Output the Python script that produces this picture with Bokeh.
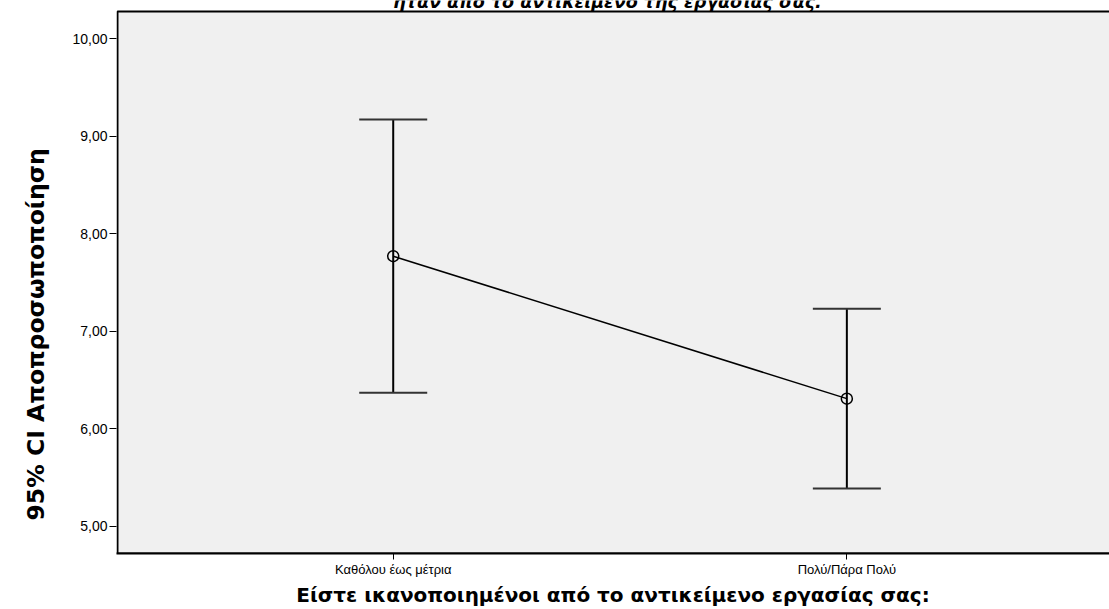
from bokeh.plotting import figure
from bokeh.models import (ColumnDataSource, Whisker, TeeHead, FixedTicker, Range1d, Label,
                          Title, BoxAnnotation)
from bokeh.embed import file_html
from bokeh.resources import INLINE

categories = ["Καθόλου έως μέτρια", "Πολύ/Πάρα Πολύ"]
means = [7.77, 6.31]
upper = [9.17, 7.23]
lower = [6.37, 5.39]
y_ticks = [5, 6, 7, 8, 9, 10]
y_tick_labels = ["5,00", "6,00", "7,00", "8,00", "9,00", "10,00"]
title_text = "ήταν από το αντικείμενο της εργασίας σας."
x_label = "Είστε ικανοποιημένοι από το αντικείμενο εργασίας σας:"
y_label = "95% CI Αποπροσωποποίηση"

xs = list(range(len(categories)))
src = ColumnDataSource(dict(x=xs, mean=means, upper=upper, lower=lower))

X0, X1 = -0.610, 1.579
Y0, YPANEL, Y1 = 4.723, 10.277, 10.39

p = figure(width=1109, height=609, output_backend="svg", toolbar_location=None,
           x_range=Range1d(X0, X1), y_range=Range1d(Y0, Y1),
           min_border_left=115, min_border_right=0, min_border_top=0, min_border_bottom=56)
p.background_fill_color = "white"
p.border_fill_color = "white"
p.outline_line_color = None
p.grid.visible = False

# grey chart panel with its top and left border lines
p.add_layout(BoxAnnotation(left=X0 + 1 / 454, right=X1 + 0.2, top=YPANEL,
                           fill_color="#f0f0f0", fill_alpha=1.0,
                           line_color="black", line_alpha=1.0, line_width=2, level="underlay"))

p.xaxis.ticker = FixedTicker(ticks=xs)
p.xaxis.major_label_overrides = {i: c for i, c in zip(xs, categories)}
p.yaxis.ticker = FixedTicker(ticks=y_ticks)
p.yaxis.major_label_overrides = {t: l for t, l in zip(y_ticks, y_tick_labels)}
for ax in (p.xaxis[0], p.yaxis[0]):
    ax.axis_line_color = "black"
    ax.axis_line_width = 2
    ax.major_tick_line_color = "black"
    ax.major_tick_line_width = 1
    ax.major_tick_in = 0
    ax.major_tick_out = 7
    ax.minor_tick_line_color = None
    ax.major_label_text_font = "Liberation Sans"
    ax.major_label_text_color = "black"
p.yaxis.axis_line_color = None
p.yaxis.major_label_text_font_size = "14px"
p.xaxis.major_label_text_font_size = "13px"
p.yaxis.major_label_standoff = 2
p.xaxis.major_tick_out = 6
p.xaxis.major_label_standoff = 2

p.xaxis.axis_label = x_label
p.xaxis.axis_label_text_font = "DejaVu Sans"
p.xaxis.axis_label_text_font_style = "bold"
p.xaxis.axis_label_text_font_size = "20px"
p.xaxis.axis_label_text_color = "black"
p.xaxis.axis_label_standoff = 3

p.add_layout(Title(text=y_label, align="left", offset=33, standoff=39,
                   text_font="DejaVu Sans", text_font_style="bold", text_font_size="23.5px",
                   text_color="black"), "left")

w = Whisker(source=src, base="x", upper="upper", lower="lower",
            line_color="black", line_width=2,
            upper_head=TeeHead(size=68, line_color="#333333", line_width=2),
            lower_head=TeeHead(size=68, line_color="#333333", line_width=2))
p.add_layout(w)

p.line("x", "mean", source=src, line_color="black", line_width=1.5)
p.scatter("x", "mean", source=src, marker="circle", size=11, fill_color=None,
          line_color="black", line_width=1.5)

# chart title, cut off at the top edge as in the reference
p.add_layout(Label(x=491, y=552, x_units="screen", y_units="screen", text=title_text,
                   text_font="DejaVu Sans", text_font_style="bold italic", text_font_size="17.5px",
                   text_align="center", text_baseline="alphabetic", text_color="black"))

open("out.html", "w").write(file_html(p, INLINE))
